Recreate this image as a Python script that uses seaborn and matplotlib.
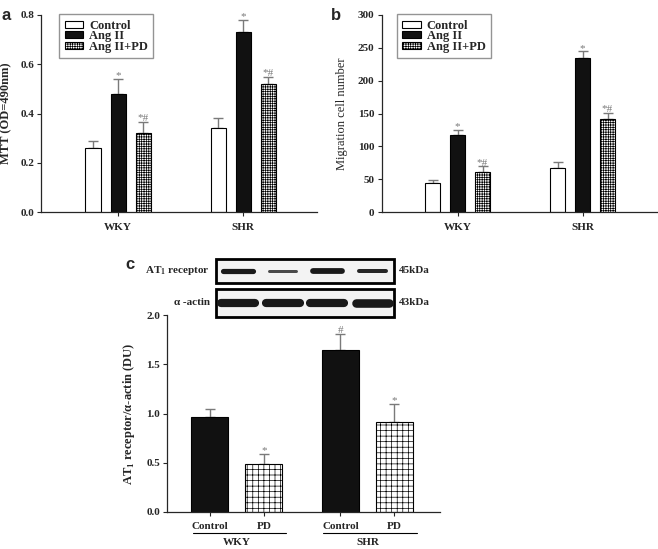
import matplotlib
matplotlib.use('Agg')
import matplotlib.pyplot as plt
import matplotlib.transforms as mtransforms
from matplotlib.patches import Patch, Rectangle
import pandas as pd
import seaborn as sns

# data --------------------------------------------------------------------
strains = ['WKY', 'SHR']
groups_ab = ['Control', 'Ang II', 'Ang II+PD']
groups_c = ['Control', 'PD']

mtt_wky = [0.26, 0.48, 0.32]
mtt_shr = [0.34, 0.73, 0.52]
mtt_err_wky = [0.03, 0.06, 0.045]
mtt_err_shr = [0.04, 0.05, 0.03]

mig_wky = [44, 117, 61]
mig_shr = [67, 235, 142]
mig_err_wky = [5.5, 8, 8.5]
mig_err_shr = [9, 9.5, 9.5]

at1_wky = [0.96, 0.49]
at1_shr = [1.64, 0.91]
at1_err_wky = [0.09, 0.10]
at1_err_shr = [0.17, 0.19]

marks_ab = ['', '*', '*#']
marks_c_wky = ['', '*']
marks_c_shr = ['#', '*']

# blot bands (lane order: WKY ctrl, WKY PD, SHR ctrl, SHR PD)
at1_band_px = [5.2, 3.0, 5.8, 4.0]       # band thickness, pixels
at1_band_len = [0.82, 0.78, 0.80, 0.76]  # band length, lane units
at1_band_shade = ['#1a1a1a', '#4a4a4a', '#1a1a1a', '#262626']
actin_band_px = [8.2, 8.2, 8.2, 8.6]
actin_band_len = [0.92, 0.92, 0.92, 0.90]
actin_band_shade = ['#1a1a1a', '#1a1a1a', '#1a1a1a', '#1a1a1a']

sns.set_style('ticks')
plt.rcParams['font.family'] = ['Liberation Serif', 'DejaVu Serif']
plt.rcParams['font.weight'] = 'bold'
plt.rcParams['axes.labelweight'] = 'bold'
plt.rcParams['hatch.linewidth'] = 0.5
plt.rcParams['axes.linewidth'] = 0.9

GREY = '#7a7a7a'


def long_table(groups, wky, shr):
    rows = []
    for s, vals in zip(strains, [wky, shr]):
        for g, v in zip(groups, vals):
            rows.append({'strain': s, 'group': g, 'value': v})
    return pd.DataFrame(rows)


def draw_bars(ax, df, groups, colors, hatches, errs, marks, width, gap, fs=8):
    sns.barplot(data=df, x='strain', y='value', hue='group', order=strains,
                hue_order=groups, palette=dict(zip(groups, colors)),
                saturation=1, width=width, gap=gap, edgecolor='black',
                linewidth=0.8, errorbar=None, legend=False, ax=ax)
    bar_sets = list(ax.containers)
    for i, cont in enumerate(bar_sets):
        for j, bar in enumerate(cont):
            bar.set_hatch(hatches[i])
            bar.set_zorder(2)
            x = bar.get_x() + bar.get_width() / 2
            y = bar.get_height()
            e = errs[j][i]
            ax.errorbar(x, y, yerr=[[0], [e]], color=GREY, lw=1.0,
                        capsize=3.5, capthick=1.0, zorder=1)
            m = marks[j][i]
            if m:
                ax.annotate(m, (x, y + e), xytext=(0, 0.5),
                            textcoords='offset points', ha='center',
                            va='baseline', color=GREY, fontsize=fs,
                            fontweight='normal')
    return bar_sets


def style_axes(ax):
    sns.despine(ax=ax)
    ax.tick_params(direction='out', length=3, width=0.8, labelsize=8, pad=2)
    ax.set_xlabel('')


fig = plt.figure(figsize=(6.58, 5.49), dpi=100)

colors_ab = ['white', '#111111', 'white']
hatches_ab = ['', '', '+++++++']

# panel a
ax_a = fig.add_axes([0.0623, 0.6138, 0.4195, 0.3589])
draw_bars(ax_a, long_table(groups_ab, mtt_wky, mtt_shr), groups_ab,
          colors_ab, hatches_ab, [mtt_err_wky, mtt_err_shr],
          [marks_ab, marks_ab], width=0.6, gap=0.4)
ax_a.set_ylim(0, 0.8)
ax_a.set_yticks([0.0, 0.2, 0.4, 0.6, 0.8])
ax_a.set_xlim(-0.616, 1.592)
style_axes(ax_a)
ax_a.tick_params(axis='x', pad=5)
ax_a.set_ylabel('MTT (OD=490nm)', fontsize=9)
ax_a.yaxis.set_label_coords(-0.105, 0.5)

# panel b
ax_b = fig.add_axes([0.5798, 0.6138, 0.4187, 0.3589])
draw_bars(ax_b, long_table(groups_ab, mig_wky, mig_shr), groups_ab,
          colors_ab, hatches_ab, [mig_err_wky, mig_err_shr],
          [marks_ab, marks_ab], width=0.6, gap=0.4)
ax_b.set_ylim(0, 300)
ax_b.set_yticks(range(0, 301, 50))
ax_b.set_xlim(-0.608, 1.596)
style_axes(ax_b)
ax_b.tick_params(axis='x', pad=5)
ax_b.set_ylabel('Migration cell number', fontsize=9, fontweight='normal')
ax_b.yaxis.set_label_coords(-0.122, 0.5)

# legends a and b
handles = [Patch(facecolor=c, edgecolor='black', hatch=h, lw=0.8)
           for c, h in zip(colors_ab, hatches_ab)]
for ax, xa in [(ax_a, 0.065), (ax_b, 0.055)]:
    leg = ax.legend(handles, groups_ab, loc='upper left',
                    bbox_to_anchor=(xa, 1.005), fontsize=9, frameon=True,
                    fancybox=False, edgecolor=GREY, handlelength=1.5,
                    handleheight=0.45, handletextpad=0.45,
                    labelspacing=-0.12, borderpad=0.45, borderaxespad=0)
    leg.get_frame().set_linewidth(1.0)

# panel c
ax_c = fig.add_axes([0.2538, 0.0674, 0.4149, 0.3588])
bars_c = draw_bars(ax_c, long_table(groups_c, at1_wky, at1_shr), groups_c,
                   ['#111111', 'white'], ['', '+++'],
                   [at1_err_wky, at1_err_shr],
                   [marks_c_wky, marks_c_shr], width=0.828, gap=0.315)
ax_c.set_ylim(0, 2.0)
ax_c.set_yticks([0.0, 0.5, 1.0, 1.5, 2.0])
ax_c.set_xlim(-0.536, 1.556)
style_axes(ax_c)
ax_c.tick_params(axis='x', pad=4)
bars_by_x = sorted((b for cont in bars_c for b in cont),
                   key=lambda b: b.get_x())
ax_c.set_xticks([b.get_x() + b.get_width() / 2 for b in bars_by_x])
ax_c.set_xticklabels(['Control', 'PD', 'Control', 'PD'])
ax_c.set_ylabel('AT$_\\mathregular{1}$ receptor/α-actin (DU)', fontsize=9)
ax_c.yaxis.set_label_coords(-0.11, 0.5)

# group labels under panel c
trans = mtransforms.blended_transform_factory(ax_c.transData, ax_c.transAxes)
for k, s in enumerate(strains):
    left = bars_by_x[2 * k].get_x()
    right = bars_by_x[2 * k + 1].get_x() + bars_by_x[2 * k + 1].get_width()
    ax_c.plot([left + 0.01, right + 0.03], [-0.107, -0.107], color='black',
              lw=0.8, transform=trans, clip_on=False)
    ax_c.text((left + right) / 2, -0.157, s, transform=trans, ha='center',
              va='center', fontsize=8)

# western blot strip
ax_w = fig.add_axes([0.3272, 0.4208, 0.2726, 0.1104])
ax_w.set_xlim(0, 4)
ax_w.set_ylim(0, 1)
ax_w.axis('off')
rows = [(0.555, 0.445, at1_band_px, at1_band_len, at1_band_shade,
         'AT$_\\mathregular{1}$ receptor', '45kDa'),
        (0.0, 0.50, actin_band_px, actin_band_len, actin_band_shade,
         'α -actin', '43kDa')]
for y0, h, bpx, blen, bshade, name, kda in rows:
    ax_w.add_patch(Rectangle((0.02, y0 + 0.02), 3.96, h - 0.04,
                             facecolor='#f3f3f3', edgecolor='black', lw=2.0,
                             clip_on=False))
    yc = y0 + h / 2
    for i in range(4):
        half = blen[i] / 2 - 0.08
        ax_w.plot([i + 0.5 - half, i + 0.5 + half], [yc, yc],
                  color=bshade[i], lw=bpx[i] * 0.72, solid_capstyle='round')
    ax_w.text(-0.12, yc, name, ha='right', va='center', fontsize=8)
    ax_w.text(4.1, yc, kda, ha='left', va='center', fontsize=8)

# panel letters
for lbl, x, y in [('a', 0.003, 0.985), ('b', 0.503, 0.985), ('c', 0.19, 0.532)]:
    fig.text(x, y, lbl, fontsize=12, fontweight='bold',
             family=['Liberation Sans', 'DejaVu Sans'], va='top')

fig.savefig('out.png', dpi=100)
